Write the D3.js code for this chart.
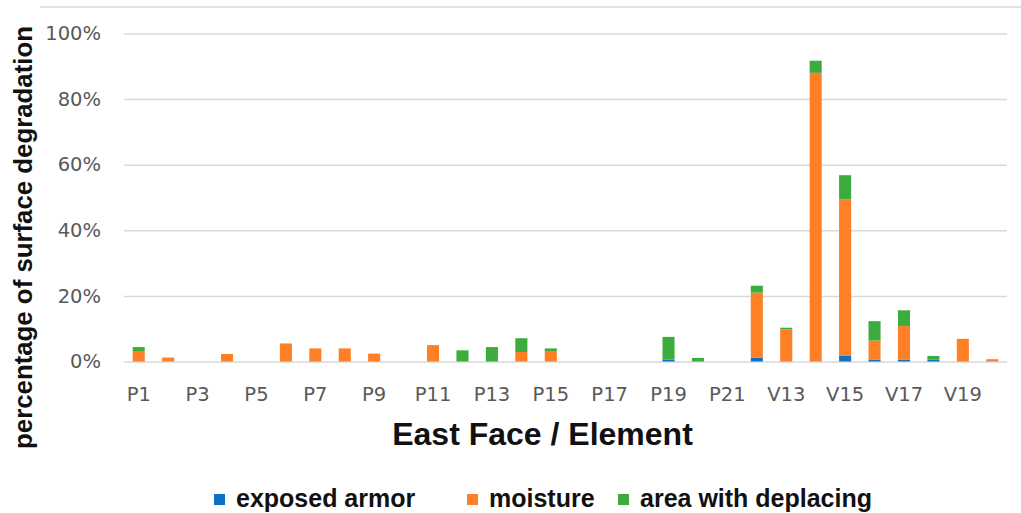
<!DOCTYPE html>
<html>
<head>
<meta charset="utf-8">
<script src="https://cdn.jsdelivr.net/npm/d3@7"></script>
<style>
  body { margin: 0; background: #fff; }
  svg { display: block; font-family: "Liberation Sans", Arial, sans-serif; }
</style>
</head>
<body>
<svg width="1021" height="513"></svg>
<script>
// elements on the east face
const categories = ["P1", "P2", "P3", "P4", "P5", "P6", "P7", "P8", "P9", "P10",
  "P11", "P12", "P13", "P14", "P15", "P16", "P17", "P18", "P19", "P20",
  "P21", "P22", "V13", "V14", "V15", "V16", "V17", "V18", "V19", "V20"];

// % of surface
const exposedArmor = [0, 0, 0, 0, 0, 0, 0, 0, 0, 0,
  0, 0, 0, 0, 0, 0, 0, 0, 0.6, 0,
  0, 1.1, 0, 0, 1.7, 0.6, 0.6, 0.6, 0, 0];
const moisture = [3.2, 1.2, 0, 2.3, 0, 5.5, 4.0, 4.0, 2.4, 0,
  5.0, 0, 0, 2.9, 3.2, 0, 0, 0, 0, 0,
  0, 19.9, 9.8, 88.0, 47.7, 5.8, 10.2, 0, 6.9, 0.7];
const deplacing = [1.2, 0, 0, 0, 0, 0, 0, 0, 0, 0,
  0, 3.4, 4.4, 4.2, 0.8, 0, 0, 0, 6.9, 1.1,
  0, 2.1, 0.5, 3.7, 7.4, 5.9, 4.8, 1.1, 0, 0];

const seriesNames = ["exposed armor", "moisture", "area with deplacing"];
const colors = ["#0f70c7", "#ff7f27", "#3cad3c"];
const yTicks = [0, 20, 40, 60, 80, 100];

const svg = d3.select("svg");
const plotLeft = 124, plotRight = 1007, plotTop = 33.5, plotBottom = 361.5;
const tickFont = "DejaVu Sans, Verdana, sans-serif";

const rows = categories.map((c, i) => ({
  cat: c,
  "exposed armor": exposedArmor[i],
  "moisture": moisture[i],
  "area with deplacing": deplacing[i]
}));

const x = d3.scaleBand()
  .domain(categories)
  .range([plotLeft, plotRight])
  .paddingInner(0.59)
  .paddingOuter(0.295);
const y = d3.scaleLinear()
  .domain([0, 100])
  .range([plotBottom, plotTop]);

// outer frame line at the top
svg.append("line")
  .attr("x1", 40).attr("x2", 1021)
  .attr("y1", 7).attr("y2", 7)
  .attr("stroke", "#d9d9d9")
  .attr("stroke-width", 1.5);

// grid + y labels
const yAxis = svg.append("g")
  .attr("transform", `translate(${plotLeft},0)`)
  .call(d3.axisLeft(y).tickValues(yTicks).tickFormat(d => d + "%")
    .tickSize(-(plotRight - plotLeft)).tickPadding(23));
yAxis.select(".domain").remove();
yAxis.selectAll(".tick line")
  .attr("stroke", "#d9d9d9")
  .attr("stroke-width", 1.5);
yAxis.selectAll(".tick text")
  .attr("fill", "#595959")
  .attr("font-size", 19.5)
  .attr("font-family", tickFont);

// stacked bars
const stack = d3.stack().keys(seriesNames);
const layers = stack(rows);

svg.append("g")
  .selectAll("g")
  .data(layers).enter()
  .append("g")
  .attr("fill", (d, i) => colors[i])
  .selectAll("rect")
  .data(d => d).enter()
  .append("rect")
  .attr("x", d => x(d.data.cat))
  .attr("y", d => y(d[1]))
  .attr("width", x.bandwidth())
  .attr("height", d => y(d[0]) - y(d[1]));

// x labels, every other category
const xAxis = svg.append("g")
  .attr("transform", `translate(0,${plotBottom})`)
  .call(d3.axisBottom(x)
    .tickValues(categories.filter((c, i) => i % 2 == 0))
    .tickSize(0).tickPadding(25.5));
xAxis.select(".domain").remove();
xAxis.selectAll(".tick text")
  .attr("fill", "#595959")
  .attr("font-size", 19.5)
  .attr("font-family", tickFont);

// axis titles
svg.append("text")
  .attr("x", 542.5)
  .attr("y", 445)
  .attr("text-anchor", "middle")
  .attr("font-size", 32)
  .attr("font-weight", "bold")
  .attr("fill", "#111")
  .text("East Face / Element");

svg.append("text")
  .attr("transform", "translate(32,237.5) rotate(-90)")
  .attr("text-anchor", "middle")
  .attr("font-size", 25.8)
  .attr("font-weight", "bold")
  .attr("fill", "#111")
  .text("percentage of surface degradation");

// legend
const legendX = [214, 467, 618];
const legend = svg.append("g")
  .selectAll("g")
  .data(seriesNames).enter()
  .append("g")
  .attr("transform", (d, i) => `translate(${legendX[i]},0)`);
legend.append("rect")
  .attr("x", 0).attr("y", 494)
  .attr("width", 11).attr("height", 11)
  .attr("fill", (d, i) => colors[i]);
legend.append("text")
  .attr("x", 22).attr("y", 506.5)
  .attr("font-size", 25)
  .attr("font-weight", "bold")
  .attr("fill", "#111")
  .text(d => d);
</script>
</body>
</html>
